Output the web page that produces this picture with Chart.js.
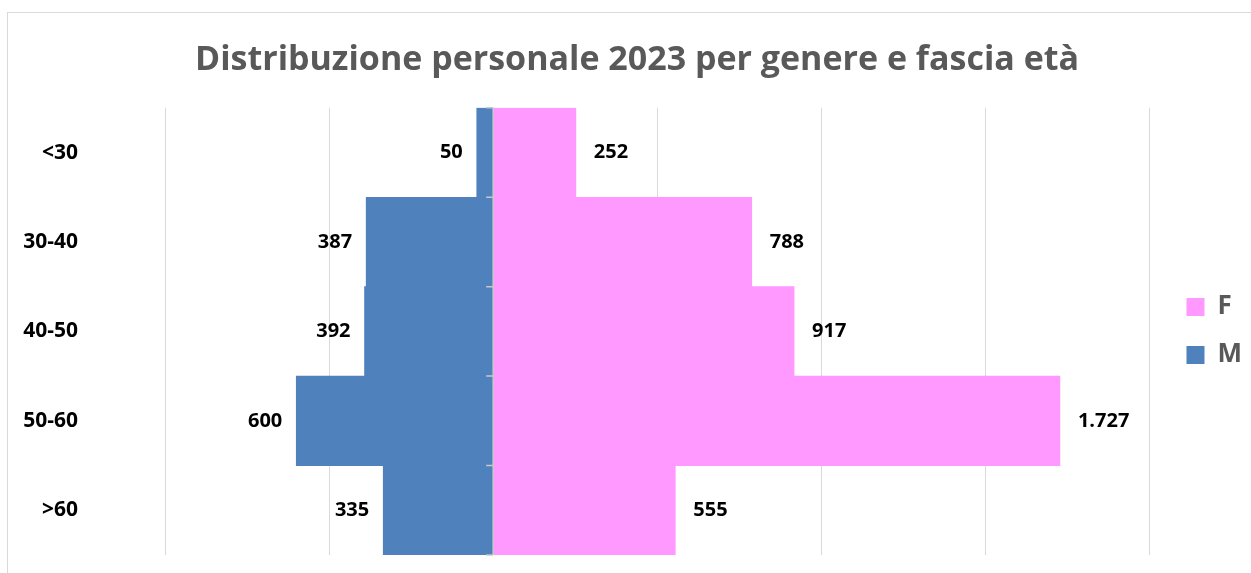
<!DOCTYPE html>
<html>
<head>
<meta charset="utf-8">
<script src="https://cdn.jsdelivr.net/npm/chart.js@4"></script>
<style>
  html, body { margin: 0; padding: 0; background: #fff; overflow: hidden; }
  #frame {
    position: absolute; left: 7px; top: 12px;
    width: 1244px; height: 560px;
    border-left: 1px solid #d9d9d9; border-top: 1px solid #d9d9d9;
  }
</style>
</head>
<body>
<div id="frame"><canvas id="myChart" width="1244" height="560"></canvas></div>
<script>
const fasce = ['<30', '30-40', '40-50', '50-60', '>60'];
const femmine = [252, 788, 917, 1727, 555];
const maschi = [50, 387, 392, 600, 335];   // disegnati a sinistra (negativi)

const fontFam = "'Open Sans', 'DejaVu Sans', sans-serif";

function formatIt(v) {
  // separatore migliaia con il punto
  return String(Math.abs(v)).replace(/\B(?=(\d{3})+(?!\d))/g, '.');
}

const valueLabels = {
  id: 'valueLabels',
  afterDatasetsDraw(chart) {
    const ctx = chart.ctx;
    ctx.save();
    ctx.font = 'bold 20px ' + fontFam;
    ctx.fillStyle = '#000';
    ctx.textBaseline = 'middle';
    chart.data.datasets.forEach((ds, i) => {
      const meta = chart.getDatasetMeta(i);
      meta.data.forEach((bar, j) => {
        const v = ds.data[j];
        if (v < 0) {
          ctx.textAlign = 'right';
          ctx.fillText(formatIt(v), bar.x - 14, bar.y);
        } else {
          ctx.textAlign = 'left';
          ctx.fillText(formatIt(v), bar.x + 18, bar.y);
        }
      });
    });
    ctx.restore();
  }
};

const centerAxis = {
  id: 'centerAxis',
  afterDatasetsDraw(chart) {
    const ctx = chart.ctx;
    const x0 = chart.scales.x.getPixelForValue(0);
    const yScale = chart.scales.y;
    const area = chart.chartArea;
    ctx.save();
    ctx.strokeStyle = '#c8c8c8';
    ctx.lineWidth = 1.5;
    ctx.beginPath();
    ctx.moveTo(x0, area.top);
    ctx.lineTo(x0, area.bottom);
    for (let i = 0; i <= fasce.length; i++) {
      const y = yScale.getPixelForValue(i - 0.5);
      ctx.moveTo(x0 - 7, y);
      ctx.lineTo(x0, y);
    }
    ctx.stroke();
    ctx.restore();
  }
};

// legenda: spazio extra a sinistra e spostamento verticale
const legendShift = { dx: 15, dy: 47 };
const legendSpace = {
  id: 'legendSpace',
  beforeLayout(chart) {
    const lg = chart.legend;
    if (lg && !lg._patched) {
      const origFit = lg.fit;
      lg.fit = function () {
        origFit.call(this);
        this.width += legendShift.dx;
      };
      lg._patched = true;
    }
  },
  afterLayout(chart) {
    const lg = chart.legend;
    lg.left += legendShift.dx;
    lg.right += legendShift.dx;
    lg.top += legendShift.dy;
    lg.bottom += legendShift.dy;
  }
};

const ctx = document.getElementById('myChart').getContext('2d');
new Chart(ctx, {
  type: 'bar',
  data: {
    labels: fasce,
    datasets: [
      {
        label: 'F',
        data: femmine,
        backgroundColor: '#FF99FF',
        borderWidth: 0,
        barPercentage: 1,
        categoryPercentage: 1
      },
      {
        label: 'M',
        data: maschi.map(v => -v),
        backgroundColor: '#4F81BD',
        borderWidth: 0,
        barPercentage: 1,
        categoryPercentage: 1
      }
    ]
  },
  options: {
    indexAxis: 'y',
    responsive: false,
    animation: false,
    layout: { padding: { left: 14, right: 0, top: 0, bottom: 18 } },
    scales: {
      x: {
        stacked: true,
        min: -1000,
        max: 2000,
        ticks: { display: false, stepSize: 500 },
        grid: { color: '#d9d9d9', lineWidth: 1, drawTicks: false },
        border: { display: false }
      },
      y: {
        stacked: true,
        grid: { display: false, drawTicks: false },
        border: { display: false },
        ticks: {
          color: '#000',
          padding: 87,
          font: { family: fontFam, size: 21, weight: 'bold' }
        },
        afterFit(scale) {
          scale.width = 143;
          scale.paddingTop = 0;
          scale.paddingBottom = 0;
        }
      }
    },
    plugins: {
      title: {
        display: true,
        text: 'Distribuzione personale 2023 per genere e fascia età',
        color: '#595959',
        font: { family: fontFam, size: 34, weight: 'bold' },
        padding: { top: 27, bottom: 27 }
      },
      legend: {
        position: 'right',
        labels: {
          color: '#595959',
          boxWidth: 18,
          boxHeight: 18,
          padding: 22,
          font: { family: fontFam, size: 26, weight: 'bold' }
        }
      },
      tooltip: { enabled: false }
    }
  },
  plugins: [valueLabels, centerAxis, legendSpace]
});
</script>
</body>
</html>
